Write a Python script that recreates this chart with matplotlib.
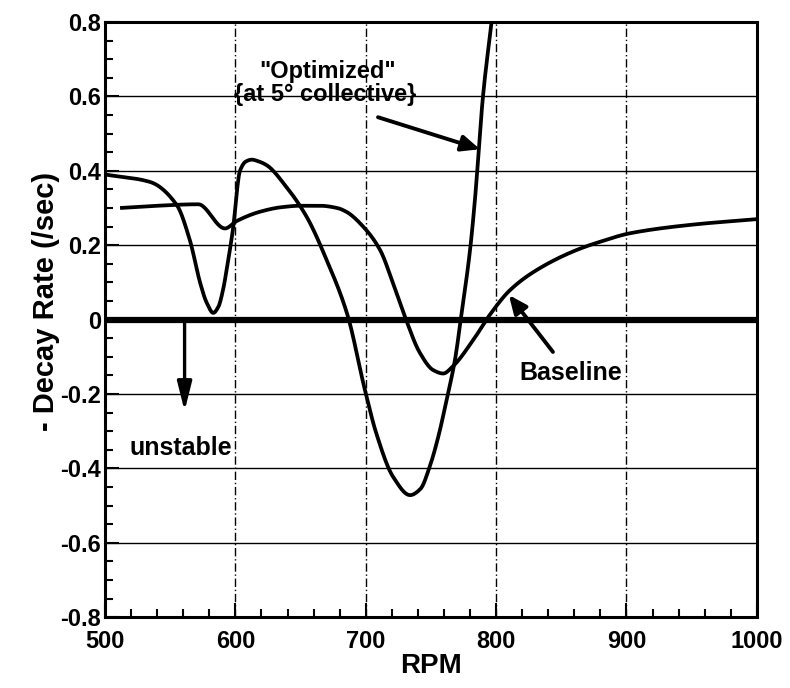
import matplotlib
matplotlib.use("Agg")
import matplotlib.pyplot as plt
import numpy as np

plt.rcParams['font.family'] = ['Liberation Sans', 'DejaVu Sans']
plt.rcParams['font.weight'] = 'bold'

# "Optimized" (at 5 deg collective) curve
opt_rpm = [500, 534.5, 555, 565, 573, 578, 583, 587, 590.5, 594, 598, 603.5, 608, 612.5, 618, 624, 639, 654.7,
           670, 686, 699.4, 708, 721, 734, 742, 749, 756, 762, 768.4, 773.5, 780, 783.7, 790, 796.5]
opt_val = [0.39, 0.37, 0.308, 0.214, 0.098, 0.045, 0.018, 0.035, 0.08, 0.15, 0.24, 0.40, 0.425, 0.43, 0.425, 0.415, 0.357, 0.276,
           0.16, 0.012, -0.19, -0.305, -0.423, -0.472, -0.455, -0.396, -0.31, -0.216, -0.109, 0.017, 0.187, 0.32, 0.603, 0.80]

# Baseline curve
base_rpm = [511.5, 534.5, 571.5, 592, 601, 618.9, 635, 649.5, 665, 678, 685, 698, 711, 721, 730, 741.6, 751.8,
            759.4, 767, 782.4, 795, 810.6, 831, 861.7, 879.6, 902.6, 950, 1000]
base_val = [0.30, 0.305, 0.31, 0.245, 0.265, 0.29, 0.302, 0.306, 0.306, 0.30, 0.29, 0.25, 0.187, 0.097, 0.008, -0.09, -0.136,
            -0.145, -0.125, -0.055, 0.012, 0.079, 0.133, 0.187, 0.209, 0.232, 0.255, 0.27]

xticks = [500, 600, 700, 800, 900, 1000]
yticks = [-0.8, -0.6, -0.4, -0.2, 0, 0.2, 0.4, 0.6, 0.8]
ytick_labels = ['-0.8', '-0.6', '-0.4', '-0.2', '0', '0.2', '0.4', '0.6', '0.8']


def smooth(xs, ys, n=600):
    xs = np.asarray(xs, float)
    ys = np.asarray(ys, float)
    # monotone cubic (PCHIP) interpolation for a smooth drawn curve
    h = np.diff(xs)
    d = np.diff(ys) / h
    m = np.zeros_like(ys)
    for k in range(1, len(xs) - 1):
        if d[k - 1] * d[k] > 0:
            w1 = 2 * h[k] + h[k - 1]
            w2 = h[k] + 2 * h[k - 1]
            m[k] = (w1 + w2) / (w1 / d[k - 1] + w2 / d[k])
    m[0] = d[0]
    m[-1] = d[-1]
    xx = np.linspace(xs[0], xs[-1], n)
    idx = np.clip(np.searchsorted(xs, xx) - 1, 0, len(xs) - 2)
    t = (xx - xs[idx]) / h[idx]
    h00 = 2 * t**3 - 3 * t**2 + 1
    h10 = t**3 - 2 * t**2 + t
    h01 = -2 * t**3 + 3 * t**2
    h11 = t**3 - t**2
    yy = h00 * ys[idx] + h10 * h[idx] * m[idx] + h01 * ys[idx + 1] + h11 * h[idx] * m[idx + 1]
    return xx, yy


fig = plt.figure(figsize=(7.9, 6.88), dpi=100)
ax = fig.add_axes([0.133, 0.103, 0.825, 0.865])

ax.set_xlim(500, 1000)
ax.set_ylim(-0.8, 0.8)

# grid
for yv in yticks[1:-1]:
    if yv != 0:
        ax.axhline(yv, color='black', lw=1.0, zorder=1)
for xv in xticks[1:-1]:
    ax.axvline(xv, color='black', lw=1.0, ls=(0, (6, 2, 1, 2)), zorder=1)
ax.axhline(0, color='black', lw=4.5, zorder=2)

xo, yo = smooth(opt_rpm, opt_val)
ax.plot(xo, yo, color='black', lw=2.7, zorder=3, solid_capstyle='butt')
xb, yb = smooth(base_rpm, base_val)
ax.plot(xb, yb, color='black', lw=2.7, zorder=3, solid_capstyle='butt')

ax.set_xticks(xticks)
ax.set_xticklabels([str(v) for v in xticks])
ax.set_yticks(yticks)
ax.set_yticklabels(ytick_labels)
ax.set_xticks(np.arange(500, 1001, 20), minor=True)
ax.set_yticks(np.arange(-0.8, 0.81, 0.05), minor=True)
ax.tick_params(which='both', direction='in', top=False, right=False, width=1.5)
ax.tick_params(which='major', length=10, labelsize=17)
ax.tick_params(axis='x', which='major', pad=9)
ax.tick_params(axis='y', which='major', pad=3)
ax.tick_params(which='minor', length=6)
for lab in ax.get_xticklabels() + ax.get_yticklabels():
    lab.set_fontweight('bold')
for s in ax.spines.values():
    s.set_linewidth(2.2)

ax.set_xlabel('RPM', fontsize=20, fontweight='bold', labelpad=0)
ax.set_ylabel('- Decay Rate (/sec)', fontsize=21, fontweight='bold')
ax.yaxis.set_label_coords(-0.069, 0.53)

# annotations
ax.text(671, 0.668, '"Optimized"', ha='center', va='center', fontsize=17, fontweight='bold')
ax.text(668.7, 0.606, '{at 5° collective}', ha='center', va='center', fontsize=17, fontweight='bold')
ax.annotate('', xy=(787.6, 0.458), xytext=(709.4, 0.544),
            arrowprops=dict(arrowstyle='-|>,head_length=0.5,head_width=0.22', color='black', lw=2.8,
                            mutation_scale=22, shrinkA=0, shrinkB=0))

ax.text(857, -0.144, 'Baseline', ha='center', va='center', fontsize=18, fontweight='bold')
ax.annotate('', xy=(809.8, 0.066), xytext=(843.6, -0.087),
            arrowprops=dict(arrowstyle='-|>,head_length=0.5,head_width=0.22', color='black', lw=2.8,
                            mutation_scale=22, shrinkA=0, shrinkB=0))

ax.annotate('', xy=(561, -0.246), xytext=(561, 0.0),
            arrowprops=dict(arrowstyle='-|>,head_length=0.8,head_width=0.2', color='black', lw=2.4,
                            mutation_scale=22, shrinkA=0, shrinkB=0))
ax.text(558.3, -0.345, 'unstable', ha='center', va='center', fontsize=18, fontweight='bold')

fig.savefig('out.png', dpi=100)
